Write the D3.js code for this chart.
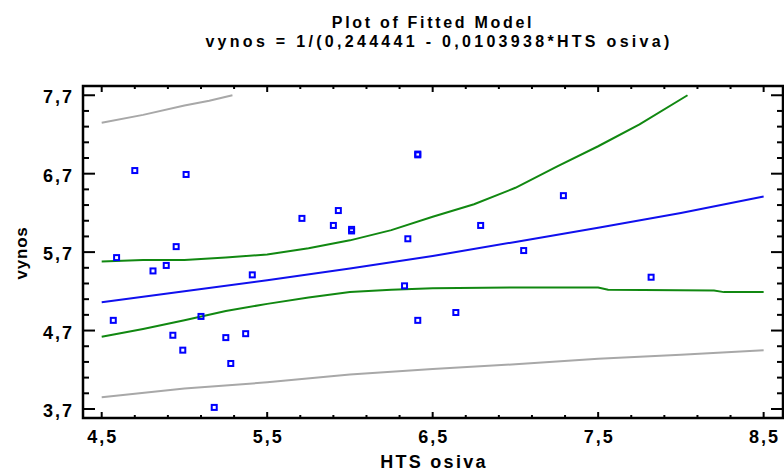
<!DOCTYPE html>
<html>
<head>
<meta charset="utf-8">
<script src="https://cdn.jsdelivr.net/npm/d3@7"></script>
<style>
  body { margin: 0; background: #fff; }
  text { font-family: Arial, "Liberation Sans", sans-serif; font-weight: bold; fill: #000; }
</style>
</head>
<body>
<div class="canvas"></div>
<script>
// observed points (HTS osiva, vynos)
const hts = [4.70, 5.01, 4.95, 4.59, 4.81, 4.89, 5.41, 4.57, 5.10, 4.93, 4.99, 5.25, 5.37, 5.28, 5.18,
  6.41, 6.41, 5.71, 5.93, 5.90, 6.01, 6.01, 6.35, 6.33, 6.41, 7.29, 6.79, 7.05, 7.82, 6.64];
const vynos = [6.74, 6.69, 5.77, 5.63, 5.46, 5.53, 5.41, 4.83, 4.88, 4.64, 4.45, 4.61, 4.66, 4.28, 3.72,
  6.94, 6.95, 6.13, 6.23, 6.04, 5.97, 5.99, 5.87, 5.27, 4.83, 6.42, 6.04, 5.72, 5.38, 4.93];

// fitted model curve
const fitX = [4.5, 5.0, 5.5, 6.0, 6.5, 7.0, 7.5, 8.0, 8.5];
const fitY = [5.06, 5.20, 5.34, 5.49, 5.65, 5.83, 6.01, 6.20, 6.41];

// confidence limits
const confUpX = [4.5, 4.75, 5.0, 5.25, 5.5, 5.75, 6.0, 6.25, 6.5, 6.75, 7.0, 7.25, 7.5, 7.75, 8.04];
const confUpY = [5.58, 5.60, 5.60, 5.63, 5.67, 5.75, 5.85, 5.98, 6.15, 6.31, 6.52, 6.79, 7.05, 7.33, 7.70];
const confLoX = [4.5, 4.75, 5.0, 5.25, 5.5, 5.75, 6.0, 6.25, 6.5, 7.0, 7.5, 7.56, 8.2, 8.26, 8.5];
const confLoY = [4.62, 4.72, 4.83, 4.95, 5.04, 5.12, 5.19, 5.22, 5.24, 5.25, 5.25, 5.22, 5.21, 5.19, 5.19];

// prediction limits
const predUpX = [4.5, 4.75, 5.0, 5.15, 5.29];
const predUpY = [7.35, 7.45, 7.57, 7.63, 7.70];
const predLoX = [4.5, 5.0, 5.5, 6.0, 6.5, 7.0, 7.5, 8.0, 8.5];
const predLoY = [3.85, 3.96, 4.04, 4.14, 4.21, 4.27, 4.34, 4.39, 4.45];

const xTicks = [4.5, 5.5, 6.5, 7.5, 8.5];
const yTicks = [3.7, 4.7, 5.7, 6.7, 7.7];

const dims = { w: 784, h: 471 };
const frame = { left: 83, right: 783, top: 86, bottom: 418 };

const svg = d3
  .select(".canvas")
  .append("svg")
  .attr("width", dims.w)
  .attr("height", dims.h);

const x = d3.scaleLinear().domain([4.387, 8.617]).range([frame.left, frame.right]);
const y = d3.scaleLinear().domain([3.585, 7.818]).range([frame.bottom, frame.top]);

const fmt = v => d3.format(".1f")(v).replace(".", ",");

// title
svg.append("text")
  .attr("x", 433).attr("y", 28)
  .attr("text-anchor", "middle")
  .attr("font-size", 16)
  .attr("letter-spacing", 2.7)
  .text("Plot of Fitted Model");
svg.append("text")
  .attr("x", 439).attr("y", 47)
  .attr("text-anchor", "middle")
  .attr("font-size", 16)
  .attr("letter-spacing", 3.3)
  .text("vynos = 1/(0,244441 - 0,0103938*HTS osiva)");

// axis labels
svg.append("text")
  .attr("x", 434).attr("y", 468)
  .attr("text-anchor", "middle")
  .attr("font-size", 18)
  .attr("letter-spacing", 2.3)
  .text("HTS osiva");
svg.append("text")
  .attr("transform", `translate(27, 253) rotate(-90)`)
  .attr("text-anchor", "middle")
  .attr("font-size", 17)
  .attr("letter-spacing", 0.8)
  .text("vynos");

// ticks
const minorX = d3.range(4.5, 8.51, 0.2);
const minorY = d3.range(3.7, 7.71, 0.2);
const isMajor = v => Math.abs((v - 0.5) - Math.round(v - 0.5)) < 1e-6;
const isMajorY = v => Math.abs((v - 0.7) - Math.round(v - 0.7)) < 1e-6;

const ticks = svg.append("g").attr("stroke", "#000").attr("stroke-width", 2);
minorX.forEach(v => {
  const len = isMajor(v) ? 6 : 3;
  ticks.append("line").attr("x1", x(v)).attr("x2", x(v)).attr("y1", frame.bottom).attr("y2", frame.bottom - len);
  ticks.append("line").attr("x1", x(v)).attr("x2", x(v)).attr("y1", frame.top).attr("y2", frame.top + len);
});
minorY.forEach(v => {
  const len = isMajorY(v) ? 12 : 6;
  ticks.append("line").attr("y1", y(v)).attr("y2", y(v)).attr("x1", frame.left).attr("x2", frame.left + len);
  ticks.append("line").attr("y1", y(v)).attr("y2", y(v)).attr("x1", frame.right).attr("x2", frame.right - len);
});

svg.append("g")
  .selectAll("text")
  .data(xTicks)
  .enter()
  .append("text")
  .attr("x", d => x(d) + 1)
  .attr("y", 443)
  .attr("text-anchor", "middle")
  .attr("font-size", 18)
  .attr("letter-spacing", 2)
  .text(fmt);

svg.append("g")
  .selectAll("text")
  .data(yTicks)
  .enter()
  .append("text")
  .attr("x", 74)
  .attr("y", d => y(d) + 8)
  .attr("text-anchor", "end")
  .attr("font-size", 18)
  .attr("letter-spacing", 2)
  .text(fmt);

// frame
svg.append("rect")
  .attr("x", frame.left).attr("y", frame.top)
  .attr("width", frame.right - frame.left)
  .attr("height", frame.bottom - frame.top)
  .attr("fill", "none")
  .attr("stroke", "#000")
  .attr("stroke-width", 2.5);

// curves
const line = d3.line().x(d => x(d[0])).y(d => y(d[1]));
const curves = [
  { xs: predUpX, ys: predUpY, c: "#a8a8a8" },
  { xs: predLoX, ys: predLoY, c: "#a8a8a8" },
  { xs: confUpX, ys: confUpY, c: "#118811" },
  { xs: confLoX, ys: confLoY, c: "#118811" },
  { xs: fitX, ys: fitY, c: "#1010ee" }
];
svg.append("g")
  .selectAll("path")
  .data(curves)
  .enter()
  .append("path")
  .attr("d", d => line(d.xs.map((v, i) => [v, d.ys[i]])))
  .attr("fill", "none")
  .attr("stroke", d => d.c)
  .attr("stroke-width", 2);

// points
svg.append("g")
  .selectAll("rect")
  .data(hts.map((v, i) => [v, vynos[i]]))
  .enter()
  .append("rect")
  .attr("x", d => x(d[0]) - 2.5)
  .attr("y", d => y(d[1]) - 2.5)
  .attr("width", 5)
  .attr("height", 5)
  .attr("fill", "none")
  .attr("stroke", "#0000ff")
  .attr("stroke-width", 2);
</script>
</body>
</html>
